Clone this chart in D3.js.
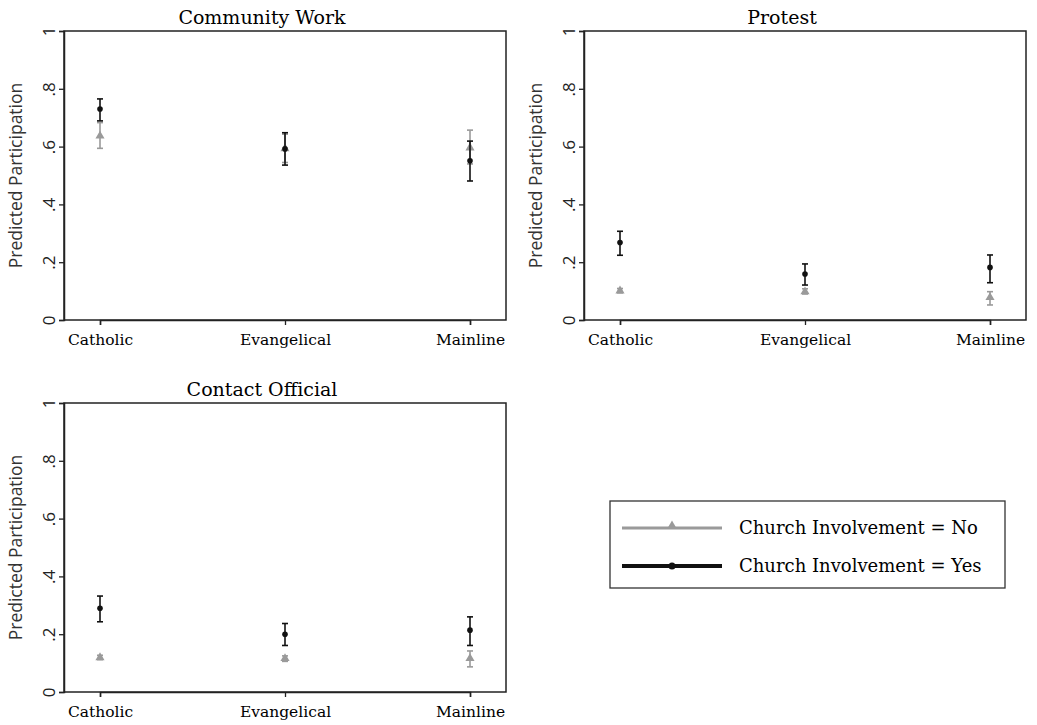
<!DOCTYPE html>
<html>
<head>
<meta charset="utf-8">
<script src="https://cdn.jsdelivr.net/npm/d3@7"></script>
<style>
  body { margin: 0; background: #fff; }
  svg { display: block; }
</style>
</head>
<body>
<div id="chart"></div>
<script>
// categories and panels
const categories = ["Catholic", "Evangelical", "Mainline"];
const panelTitles = ["Community Work", "Protest", "Contact Official"];
const yTicks = [0, 0.2, 0.4, 0.6, 0.8, 1];
const seriesNames = ["Church Involvement = No", "Church Involvement = Yes"];

// estimates per panel: [Catholic, Evangelical, Mainline]
const noEst = [[0.637, 0.593, 0.596], [0.101, 0.098, 0.078], [0.119, 0.116, 0.116]];
const noLo  = [[0.594, 0.545, 0.540], [0.094, 0.090, 0.052], [0.112, 0.106, 0.087]];
const noHi  = [[0.683, 0.643, 0.657], [0.109, 0.108, 0.098], [0.127, 0.125, 0.142]];
const yesEst = [[0.730, 0.592, 0.551], [0.268, 0.159, 0.182], [0.290, 0.200, 0.214]];
const yesLo  = [[0.689, 0.536, 0.481], [0.224, 0.121, 0.129], [0.243, 0.161, 0.161]];
const yesHi  = [[0.765, 0.648, 0.619], [0.307, 0.194, 0.225], [0.332, 0.237, 0.260]];

const width = 1037, height = 725;
const serif = "'DejaVu Serif', serif";
const sans = "'Open Sans', 'DejaVu Sans', sans-serif";
const grayCol = "#9a9a9a", blackCol = "#111";

const svg = d3.select("#chart").append("svg")
  .attr("width", width)
  .attr("height", height);

// panel placement (graph origin of each sub-graph)
const panelPos = [[0, 0], [520, 0], [0, 372]];

const fmt = d => d === 0 ? "0" : d === 1 ? "1" : d3.format(".1f")(d).replace("0.", ".");

panelTitles.forEach((title, p) => {
  const [ox, oy] = panelPos[p];
  const g = svg.append("g").attr("transform", `translate(${ox},${oy})`);
  const left = 64, right = 506, top = 31, bottom = 320;

  const x = d3.scalePoint().domain(categories).range([left + 36, right - 36]);
  const y = d3.scaleLinear().domain([0, 1]).range([bottom, top]);

  // frame
  g.append("rect")
    .attr("x", left).attr("y", top)
    .attr("width", right - left).attr("height", bottom - top)
    .attr("fill", "none").attr("stroke", "#222").attr("stroke-width", 1.5);

  // y axis
  const ya = g.append("g").attr("transform", `translate(${left},0)`)
    .call(d3.axisLeft(y).tickValues(yTicks).tickFormat(fmt).tickSize(5));
  ya.select(".domain").attr("stroke", "#222").attr("stroke-width", 1.5);
  ya.selectAll(".tick line").attr("stroke", "#222").attr("stroke-width", 1.3);
  ya.selectAll(".tick text")
    .attr("x", 0).attr("y", -9).attr("dy", 0)
    .attr("transform", "rotate(-90)")
    .attr("text-anchor", "middle")
    .style("font-family", sans).style("font-size", "17px").attr("fill", "#222");

  // x axis
  const xa = g.append("g").attr("transform", `translate(0,${bottom})`)
    .call(d3.axisBottom(x).tickSize(5));
  xa.select(".domain").attr("stroke", "#222").attr("stroke-width", 1.5);
  xa.selectAll(".tick line").attr("stroke", "#222").attr("stroke-width", 1.3);
  xa.selectAll(".tick text")
    .attr("y", 25).attr("dy", 0)
    .style("font-family", serif).style("font-size", "15.5px").attr("fill", "#000");

  // y label
  g.append("text")
    .attr("transform", `translate(22,${(top + bottom) / 2}) rotate(-90)`)
    .attr("text-anchor", "middle")
    .style("font-family", sans).style("font-size", "17.5px").attr("fill", "#333")
    .text("Predicted Participation");

  // title
  g.append("text")
    .attr("x", 262).attr("y", 24)
    .attr("text-anchor", "middle")
    .style("font-family", serif).style("font-size", "19px").attr("fill", "#000")
    .text(title);

  // series: No (gray triangles) drawn first, Yes (black dots) on top
  const drawSeries = (est, lo, hi, col, isTri) => {
    const rows = categories.map((c, i) => ({ c, est: est[p][i], lo: lo[p][i], hi: hi[p][i] }));
    const s = g.append("g");
    s.selectAll("line.ci").data(rows).join("line")
      .attr("x1", d => x(d.c)).attr("x2", d => x(d.c))
      .attr("y1", d => y(d.lo)).attr("y2", d => y(d.hi))
      .attr("stroke", col).attr("stroke-width", 1.6);
    ["lo", "hi"].forEach(k => {
      s.selectAll("line.cap" + k).data(rows).join("line")
        .attr("x1", d => x(d.c) - 3).attr("x2", d => x(d.c) + 3)
        .attr("y1", d => y(d[k])).attr("y2", d => y(d[k]))
        .attr("stroke", col).attr("stroke-width", 1.6);
    });
    if (isTri) {
      s.selectAll("path").data(rows).join("path")
        .attr("d", d3.symbol(d3.symbolTriangle, 36))
        .attr("transform", d => `translate(${x(d.c)},${y(d.est)})`)
        .attr("fill", col);
    } else {
      s.selectAll("circle").data(rows).join("circle")
        .attr("cx", d => x(d.c)).attr("cy", d => y(d.est)).attr("r", 2.8)
        .attr("fill", col);
    }
  };
  drawSeries(noEst, noLo, noHi, grayCol, true);
  drawSeries(yesEst, yesLo, yesHi, blackCol, false);
});

// legend
const lg = svg.append("g").attr("transform", "translate(610,501)");
lg.append("rect").attr("width", 395).attr("height", 87)
  .attr("fill", "#fff").attr("stroke", "#333").attr("stroke-width", 1.3);
seriesNames.forEach((name, i) => {
  const yy = 27 + i * 38;
  const col = i === 0 ? grayCol : blackCol;
  lg.append("line").attr("x1", 12).attr("x2", 112).attr("y1", yy).attr("y2", yy)
    .attr("stroke", col).attr("stroke-width", i === 0 ? 3 : 4);
  if (i === 0) {
    lg.append("path").attr("d", d3.symbol(d3.symbolTriangle, 40))
      .attr("transform", `translate(62,${yy - 2})`).attr("fill", col);
  } else {
    lg.append("circle").attr("cx", 62).attr("cy", yy).attr("r", 3.5).attr("fill", col);
  }
  lg.append("text").attr("x", 129).attr("y", yy + 6)
    .style("font-family", serif).style("font-size", "18px").attr("fill", "#000")
    .text(name);
});
</script>
</body>
</html>
